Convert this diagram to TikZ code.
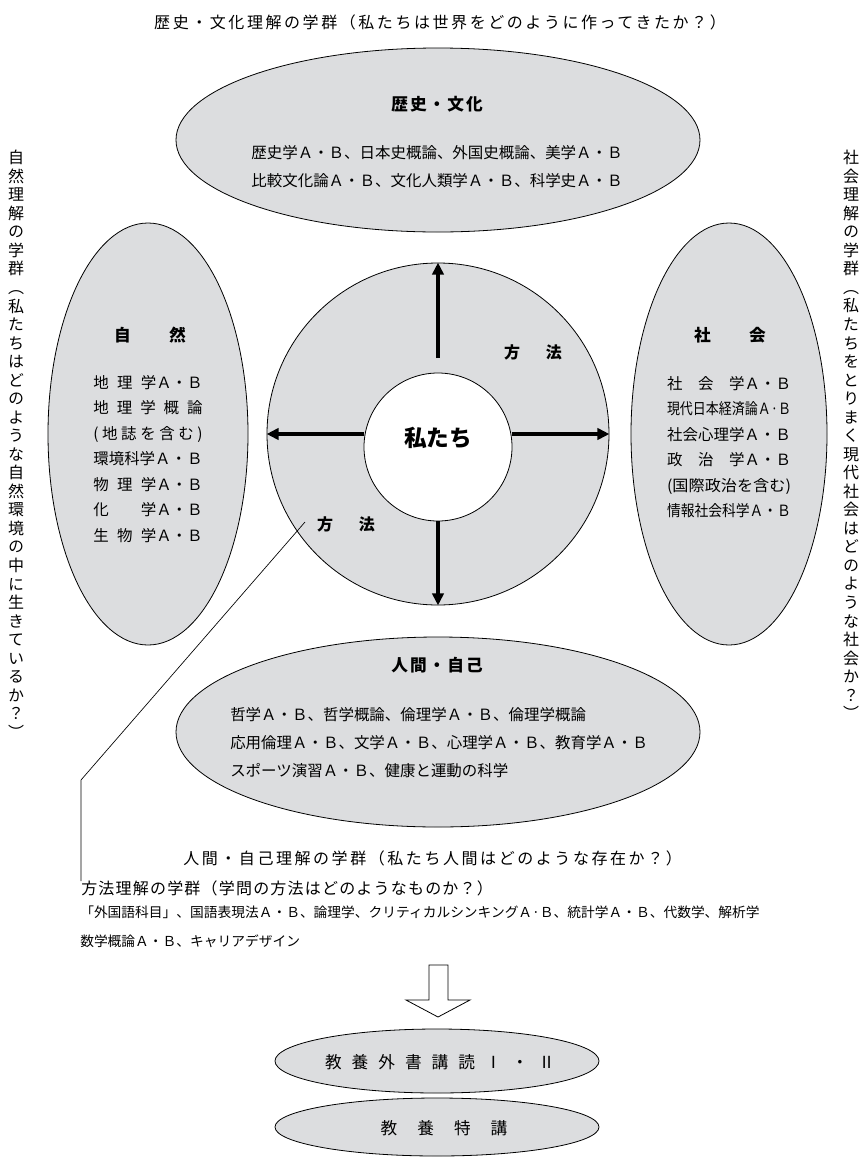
\documentclass[tikz,border=0pt]{standalone}
\usepackage{fontspec}
\usepackage{graphicx}
\setmainfont{Noto Sans CJK JP}
\newfontfamily\tatefont[RawFeature=+vert]{Noto Sans CJK JP}
\usetikzlibrary{shapes.geometric,arrows.meta,positioning}
\definecolor{fieldgray}{RGB}{220,221,223}

\begin{document}
\begin{tikzpicture}[x=0.75pt,y=-0.75pt,
    field/.style={ellipse,draw,line width=0.6pt,fill=fieldgray,inner sep=0pt},
    heading/.style={font=\fontsize{12.5}{15}\selectfont\bfseries\addfontfeature{LetterSpace=12}},
    courses/.style={font=\fontsize{11.6}{21}\selectfont,align=center,inner sep=0pt},
    sidelist/.style={font=\fontsize{11.6}{19.1}\selectfont,align=center,inner sep=0pt},
    caption/.style={font=\fontsize{12}{14}\selectfont\addfontfeature{LetterSpace=16},inner sep=0pt},
    tate/.style={font=\tatefont\fontsize{12}{13.9}\selectfont,align=center,inner sep=0pt,anchor=north},
    push/.style={line width=2.3pt,-{Triangle[length=9pt,width=8.5pt]}},
    leader/.style={line width=0.5pt}]
  \useasboundingbox (0,0) rectangle (866,1157);

  \node[field,minimum width=393pt,minimum height=138pt] (history) at (438,140) {};
  \node[heading] (historyT) at (437,104) {歴史・文化};
  \node[courses] (historyC) at (437,167) {歴史学Ａ・Ｂ、日本史概論、外国史概論、美学Ａ・Ｂ\\比較文化論Ａ・Ｂ、文化人類学Ａ・Ｂ、科学史Ａ・Ｂ};

  \node[field,minimum width=150pt,minimum height=316.5pt] (nature) at (148,434) {};
  \node[heading] (natureT) at (150,335) {自\hspace{2.3em}然};
  \node[sidelist] (natureC) at (148,459) {
    \makebox[82pt]{地\hfill 理\hfill 学Ａ・Ｂ}\\
    \makebox[82pt]{地\hfill 理\hfill 学\hfill 概\hfill 論}\\
    \makebox[82pt]{(\hfill 地\hfill 誌\hfill を\hfill 含\hfill む\hfill )}\\
    \makebox[82pt]{環境科学Ａ\hfill・\hfill Ｂ}\\
    \makebox[82pt]{物\hfill 理\hfill 学Ａ・Ｂ}\\
    \makebox[82pt]{化\hfill\phantom{理}\hfill 学Ａ・Ｂ}\\
    \makebox[82pt]{生\hfill 物\hfill 学Ａ・Ｂ}};

  \node[field,minimum width=147pt,minimum height=316.5pt] (society) at (729,434) {};
  \node[heading] (societyT) at (730,335) {社\hspace{2.3em}会};
  \node[sidelist] (societyC) at (729,447) {
    \makebox[93pt]{社\hfill 会\hfill 学Ａ・Ｂ}\\
    \resizebox{93pt}{\height}{現代日本経済論Ａ·Ｂ}\\
    \makebox[93pt]{社会心理学Ａ・Ｂ}\\
    \makebox[93pt]{政\hfill 治\hfill 学Ａ・Ｂ}\\
    \resizebox{93pt}{\height}{(国際政治を含む)}\\
    \resizebox{93pt}{\height}{情報社会科学Ａ・Ｂ}};

  \node[circle,draw,line width=0.6pt,fill=fieldgray,minimum size=256.5pt,inner sep=0pt] (method) at (438,434) {};
  \node[circle,draw,line width=0.6pt,fill=white,minimum size=111pt,inner sep=0pt] (we) at (438,447) {};
  \node[font=\fontsize{17}{20}\selectfont\bfseries] (weT) at (438,438) {私たち};
  \coordinate (upfoot) at (438,358);
  \draw[push] (upfoot) -- (method.north);
  \draw[push] (we.south) -- (method.south);
  \draw[push] (we.west |- method.center) -- (method.west);
  \draw[push] (we.east |- method.center) -- (method.east);
  \node[heading,font=\fontsize{12}{15}\selectfont\bfseries] (methodA) at (533,352) {方\hspace{1.6em}法};
  \node[heading,font=\fontsize{12}{15}\selectfont\bfseries] (methodB) at (346,524) {方\hspace{1.6em}法};

  \node[field,minimum width=393pt,minimum height=142.5pt] (self) at (438,732) {};
  \node[heading] (selfT) at (437,665) {人間・自己};
  \node[courses,align=left,anchor=west] (selfC) at (230,743) {哲学Ａ・Ｂ、哲学概論、倫理学Ａ・Ｂ、倫理学概論\\応用倫理Ａ・Ｂ、文学Ａ・Ｂ、心理学Ａ・Ｂ、教育学Ａ・Ｂ\\スポーツ演習Ａ・Ｂ、健康と運動の科学};

  \node[caption] (historyCap) at (440,22) {歴史・文化理解の学群（私たちは世界をどのように作ってきたか？）};
  \node[caption,anchor=west] (selfCap) at (183,858) {人間・自己理解の学群（私たち人間はどのような存在か？）};
  \node[caption,anchor=north west,font=\fontsize{12}{14}\selectfont\addfontfeature{LetterSpace=7.5}] (methodCap) at (81,881) {方法理解の学群（学問の方法はどのようなものか？）};
  \node[font=\fontsize{10.3}{21.75}\selectfont,align=left,anchor=north west,inner sep=0pt] (methodC) at (80,906) {「外国語科目」、国語表現法Ａ・Ｂ、論理学、クリティカルシンキングＡ·Ｂ、統計学Ａ・Ｂ、代数学、解析学\\数学概論Ａ・Ｂ、キャリアデザイン};
  \node[tate] (natureCap) at (16,150) {自\\然\\理\\解\\の\\学\\群\\（\\私\\た\\ち\\は\\ど\\の\\よ\\う\\な\\自\\然\\環\\境\\の\\中\\に\\生\\き\\て\\い\\る\\か\\？\\）};
  \node[tate] (societyCap) at (851,150) {社\\会\\理\\解\\の\\学\\群\\（\\私\\た\\ち\\を\\と\\り\\ま\\く\\現\\代\\社\\会\\は\\ど\\の\\よ\\う\\な\\社\\会\\か\\？\\）};

  \coordinate (leadfoot) at (305,522);
  \coordinate (leadknee) at (81,780);
  \draw[leader] (leadfoot) -- (leadknee) -- (methodCap.north west);

  \draw[line width=0.6pt] (429,965) -- (448,965) -- (448,1000) -- (470,1000) -- (438,1017) -- (406,1000) -- (429,1000) -- cycle;

  \node[field,minimum width=243pt,minimum height=48pt] (reading) at (437,1061) {};
  \node[font=\fontsize{12.5}{15}\selectfont\addfontfeature{LetterSpace=60}] (readingT) at (440,1062) {教養外書講読Ⅰ・Ⅱ};
  \node[field,minimum width=243pt,minimum height=43.5pt] (lecture) at (437,1127) {};
  \node[font=\fontsize{12.5}{15}\selectfont\addfontfeature{LetterSpace=120}] (lectureT) at (444,1128) {教養特講};
\end{tikzpicture}
\end{document}
